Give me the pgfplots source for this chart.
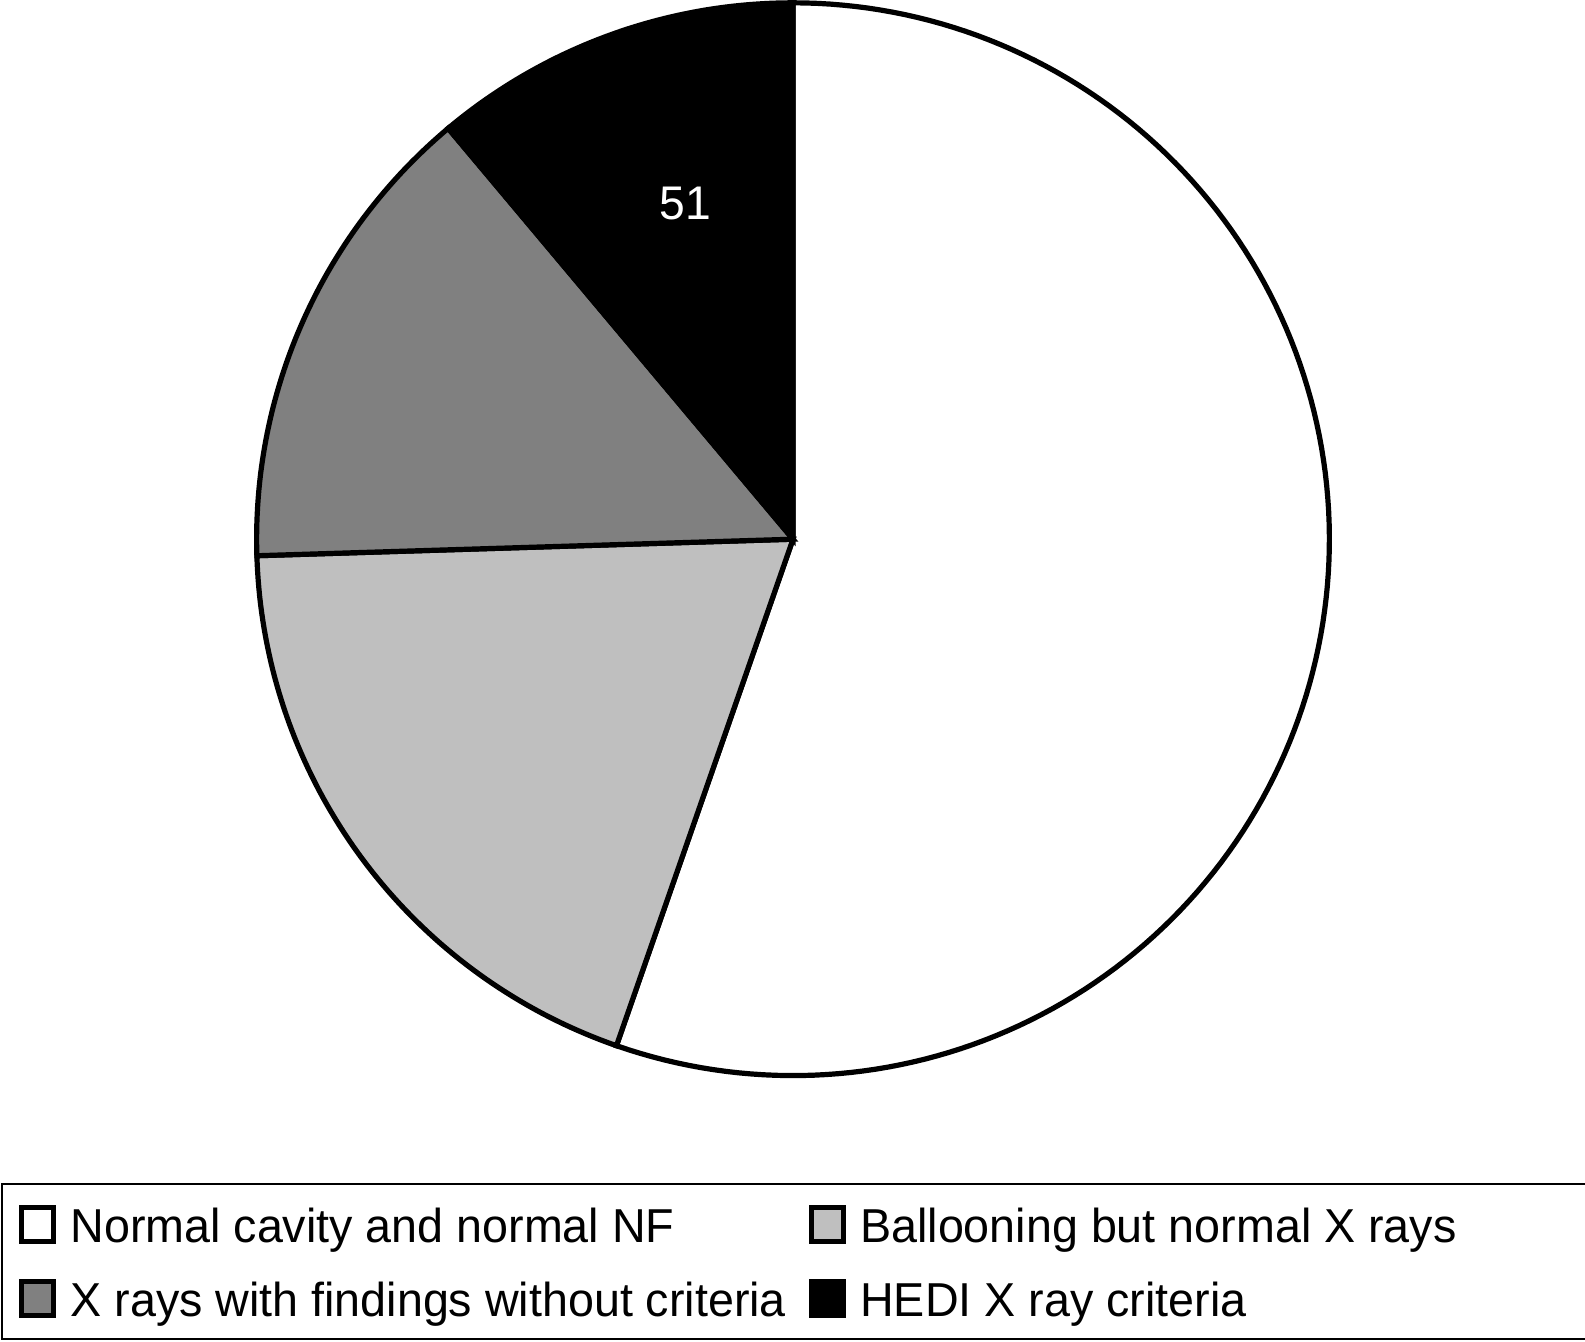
\documentclass[border=0pt]{standalone}
\usepackage{fontspec}
\setmainfont{Liberation Sans}[FakeStretch=0.98]
\usepackage{pgfplots}
\usepackage{pgfplotstable}
\pgfplotsset{compat=1.18}

\pgfplotstableread{
value
254
88
66
51
}\piedata

\pgfplotstablegetelem{0}{value}\of\piedata \edef\vA{\pgfplotsretval}
\pgfplotstablegetelem{1}{value}\of\piedata \edef\vB{\pgfplotsretval}
\pgfplotstablegetelem{2}{value}\of\piedata \edef\vC{\pgfplotsretval}
\pgfplotstablegetelem{3}{value}\of\piedata \edef\vD{\pgfplotsretval}
\pgfmathsetmacro\T{\vA+\vB+\vC+\vD}
\pgfmathsetmacro\aA{90-360*(\vA/\T)}
\pgfmathsetmacro\aB{\aA-360*(\vB/\T)}
\pgfmathsetmacro\aC{\aB-360*(\vC/\T)}
\pgfmathsetmacro\aD{\aC-360*(\vD/\T)}
\pgfmathsetmacro\mD{(\aC+\aD)/2}
\pgfmathsetmacro\lx{0.658*cos(\mD-2.2)}
\pgfmathsetmacro\ly{0.658*sin(\mD-2.2)}

\begin{document}
\begin{tikzpicture}
\begin{axis}[
  hide axis, x=134.1pt, y=134.1pt,
  xmin=-1, xmax=1, ymin=-1, ymax=1.0052,
  clip=false,
  legend columns=2,
  legend cell align=left,
  legend style={at={(0,0)}, anchor=north west, xshift=-63.9pt, yshift=-26.85pt,
    draw=black, line width=0.5pt, inner xsep=4.375pt, inner ysep=4.55pt, row sep=7.6pt,
    nodes={inner sep=0pt, text height=10pt, text depth=1pt, font=\fontsize{11.9}{14}\selectfont},
    /tikz/every odd column/.append style={column sep=3.5pt}},
  legend image code/.code={\draw[#1, line width=1.25pt] (0pt,-4.2pt) rectangle (8pt,4.2pt);},
]
\addplot[draw=black, line width=1.3pt, fill=white, domain=\aA:90, samples=150, variable=\t]
  ({cos(\t)},{sin(\t)}) -- (axis cs:0,0) -- cycle;
\addlegendentry{\makebox[184.7pt][l]{Normal cavity and normal NF}}
\addplot[draw=black, line width=1.3pt, fill=black!25, domain=\aB:\aA, samples=80, variable=\t]
  ({cos(\t)},{sin(\t)}) -- (axis cs:0,0) -- cycle;
\addlegendentry{\makebox[178.5pt][l]{Ballooning but normal X rays}}
\addplot[draw=black, line width=1.3pt, fill=black!50, domain=\aC:\aB, samples=60, variable=\t]
  ({cos(\t)},{sin(\t)}) -- (axis cs:0,0) -- cycle;
\addlegendentry{\makebox[184.7pt][l]{X rays with findings without criteria}}
\addplot[draw=black, line width=1.3pt, fill=black, domain=\aD:\aC, samples=50, variable=\t]
  ({cos(\t)},{sin(\t)}) -- (axis cs:0,0) -- cycle;
\addlegendentry{\makebox[178.5pt][l]{HEDI X ray criteria}}
\addplot[forget plot, draw=none, mark=none, nodes near coords, point meta=explicit symbolic,
  nodes near coords style={font=\fontsize{11.8}{14}\selectfont, text=white, anchor=center}]
  coordinates {(\lx,\ly) [\vD]};
\end{axis}
\pgfresetboundingbox
\useasboundingbox (-64.15pt,-66.35pt) rectangle (332.1pt,268.9pt);
\end{tikzpicture}
\end{document}
